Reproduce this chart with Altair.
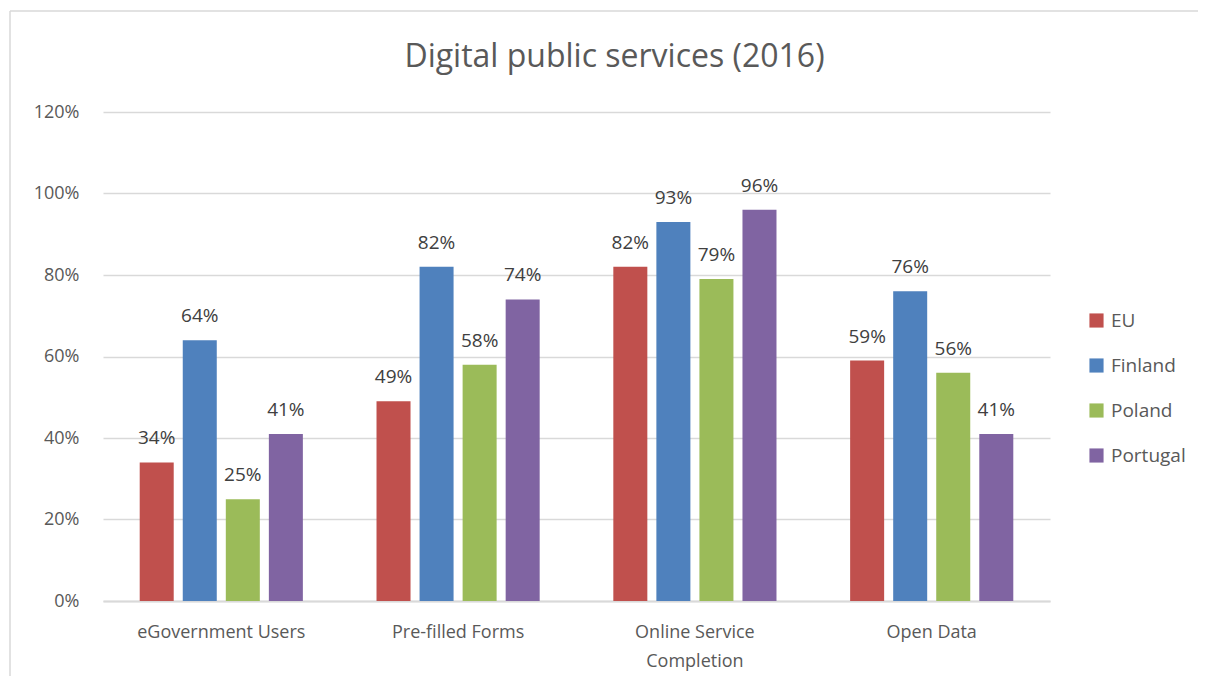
import altair as alt
import pandas as pd

categories = ["eGovernment Users", "Pre-filled Forms", "Online Service Completion", "Open Data"]
series = ["EU", "Finland", "Poland", "Portugal"]
eu = [34, 49, 82, 59]
finland = [64, 82, 93, 76]
poland = [25, 58, 79, 56]
portugal = [41, 74, 96, 41]
colors = ["#C0504D", "#4F81BD", "#9BBB59", "#8064A2"]

rows = []
for s, vals in zip(series, [eu, finland, poland, portugal]):
    for c, v in zip(categories, vals):
        rows.append({"category": c, "series": s, "value": v / 100})
df = pd.DataFrame(rows)

FONT = "Open Sans"

base = alt.Chart(df).encode(
    x=alt.X("category:N", sort=categories, title=None,
            scale=alt.Scale(paddingInner=0.311, paddingOuter=0.155),
            axis=alt.Axis(labelAngle=0, ticks=False, domainColor="#D9D9D9", domainWidth=2,
                          labelFontSize=18, labelColor="#595959", labelFont=FONT,
                          labelPadding=22, labelLineHeight=29,
                          labelExpr="datum.label == 'Online Service Completion' ? ['Online Service', 'Completion'] : datum.label")),
    xOffset=alt.XOffset("series:N", sort=series,
                        scale=alt.Scale(paddingInner=0.21, paddingOuter=0)),
)

bars = base.mark_bar().encode(
    y=alt.Y("value:Q", title=None,
            scale=alt.Scale(domain=[0, 1.2]),
            axis=alt.Axis(values=[0, 0.2, 0.4, 0.6, 0.8, 1.0, 1.2], format=".0%",
                          domain=False, ticks=False, gridColor="#D9D9D9", gridWidth=1.5,
                          labelFontSize=18, labelColor="#595959", labelFont=FONT,
                          labelPadding=24)),
    color=alt.Color("series:N", sort=series, scale=alt.Scale(domain=series, range=colors),
                    legend=alt.Legend(title=None, orient="none", legendX=984, legendY=199,
                                      symbolType="square", symbolSize=200, symbolStrokeWidth=0,
                                      labelFontSize=19, labelColor="#595959", labelFont=FONT,
                                      rowPadding=25, labelOffset=5)),
)

labels = base.mark_text(baseline="bottom", dy=-14, fontSize=19, color="#404040", font=FONT).encode(
    y=alt.Y("value:Q"),
    text=alt.Text("value:Q", format=".0%"),
)

frame_df = pd.DataFrame({"k": [0]})
top_border = alt.Chart(frame_df).mark_rule(stroke="#D9D9D9", strokeWidth=1.5).encode(
    x=alt.value(-93), x2=alt.value(1250), y=alt.value(-101)
)
left_border = alt.Chart(frame_df).mark_rule(stroke="#D9D9D9", strokeWidth=1.5).encode(
    x=alt.value(-93), y=alt.value(-101), y2=alt.value(700)
)

chart = alt.layer(top_border, left_border, bars, labels).properties(
    width=947, height=489,
    autosize=alt.AutoSizeParams(type="none"),
    padding={"left": 95, "top": 104, "right": 148, "bottom": 75},
    title=alt.TitleParams("Digital public services (2016)", fontSize=32, font=FONT,
                          fontWeight="normal", color="#595959", dx=38, offset=-64),
).configure_view(stroke=None).configure_axisY(domain=False)

chart.save("out.html", embed_options={"renderer": "svg", "actions": False})
